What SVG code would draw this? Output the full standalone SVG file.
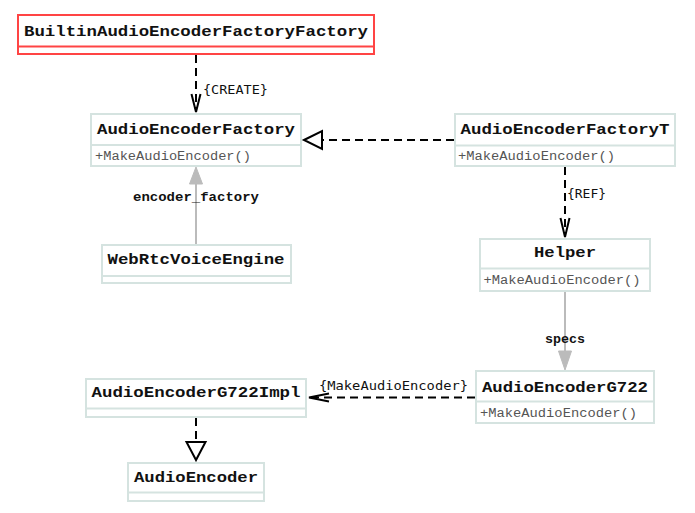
<svg xmlns="http://www.w3.org/2000/svg" width="695" height="513" viewBox="0 0 695 513">
<style>
.box{fill:#fff;stroke:#d5e3e0;stroke-width:2}
.red{fill:#fff;stroke:#ff4444;stroke-width:2}
.div{stroke:#d5e3e0;stroke-width:2}
.divr{stroke:#ff4444;stroke-width:2}
.title{font-family:"Liberation Mono",monospace;font-weight:bold;font-size:15.5px;fill:#111;text-anchor:middle}
.meth{font-family:"Liberation Mono",monospace;font-size:12px;fill:#555}
.dash{stroke:#000;stroke-width:2;stroke-dasharray:8,5;fill:none}
.solid{stroke:#bbb;stroke-width:2;fill:none}
.open{stroke:#000;stroke-width:2;fill:none}
.tri{stroke:#000;stroke-width:2;fill:#fff}
.gtri{fill:#bbb;stroke:#bbb;stroke-width:1}
.lbl{font-family:"DejaVu Sans Mono",monospace;font-size:13px;fill:#111}
.blbl{font-family:"Liberation Mono",monospace;font-weight:bold;font-size:13px;fill:#111;text-anchor:middle}
</style>
<rect width="695" height="513" fill="#fff"/>
<g id="connectors">
<line class="dash" x1="196" y1="55" x2="196" y2="111"/>
<polyline class="open" points="191.5,94 196,112 200.5,94"/>
<text class="lbl" x="203" y="94" textLength="65" lengthAdjust="spacingAndGlyphs">{CREATE}</text>
<line class="dash" x1="454" y1="140" x2="322" y2="140"/>
<polygon class="tri" points="304,140 322,131 322,149"/>
<line class="solid" x1="196" y1="245" x2="196" y2="183"/>
<polygon class="gtri" points="196,167 189.5,184 202.5,184"/>
<text class="blbl" x="196" y="201" textLength="126" lengthAdjust="spacingAndGlyphs">encoder_factory</text>
<line class="dash" x1="565" y1="167" x2="565" y2="236"/>
<polyline class="open" points="560.5,218 565,237 569.5,218"/>
<text class="lbl" x="567" y="198" textLength="39" lengthAdjust="spacingAndGlyphs">{REF}</text>
<line class="solid" x1="565" y1="292" x2="565" y2="352"/>
<polygon class="gtri" points="565,370 558.5,351 571.5,351"/>
<text class="blbl" x="565" y="343" textLength="40" lengthAdjust="spacingAndGlyphs">specs</text>
<line class="dash" x1="475" y1="397.5" x2="310" y2="397.5"/>
<polyline class="open" points="329,393.5 309,397.5 329,401.5"/>
<text class="lbl" x="319" y="390" textLength="149" lengthAdjust="spacingAndGlyphs">{MakeAudioEncoder}</text>
<line class="dash" x1="196" y1="418" x2="196" y2="442"/>
<polygon class="tri" points="196,460 186.5,442 205.5,442"/>
</g>
<g id="BuiltinAudioEncoderFactoryFactory">
<rect class="red" x="18" y="15" width="356" height="39"/>
<line class="divr" x1="18" y1="46.5" x2="374" y2="46.5"/>
<text class="title" x="196" y="36" textLength="344" lengthAdjust="spacingAndGlyphs">BuiltinAudioEncoderFactoryFactory</text>
</g>
<g id="AudioEncoderFactory">
<rect class="box" x="91" y="114" width="210" height="52"/>
<line class="div" x1="91" y1="145" x2="301" y2="145"/>
<text class="title" x="196" y="133.5" textLength="198" lengthAdjust="spacingAndGlyphs">AudioEncoderFactory</text>
<text class="meth" x="95" y="159.5" textLength="156" lengthAdjust="spacingAndGlyphs">+MakeAudioEncoder()</text>
</g>
<g id="AudioEncoderFactoryT">
<rect class="box" x="455" y="114" width="220" height="52"/>
<line class="div" x1="455" y1="145.5" x2="675" y2="145.5"/>
<text class="title" x="565" y="133.5" textLength="209" lengthAdjust="spacingAndGlyphs">AudioEncoderFactoryT</text>
<text class="meth" x="458" y="159.5" textLength="157" lengthAdjust="spacingAndGlyphs">+MakeAudioEncoder()</text>
</g>
<g id="WebRtcVoiceEngine">
<rect class="box" x="102" y="245" width="189" height="38"/>
<line class="div" x1="102" y1="276" x2="291" y2="276"/>
<text class="title" x="196" y="263.5" textLength="177" lengthAdjust="spacingAndGlyphs">WebRtcVoiceEngine</text>
</g>
<g id="Helper">
<rect class="box" x="480" y="239" width="170" height="52"/>
<line class="div" x1="480" y1="268.5" x2="650" y2="268.5"/>
<text class="title" x="565" y="257" textLength="62" lengthAdjust="spacingAndGlyphs">Helper</text>
<text class="meth" x="483.5" y="283.5" textLength="157" lengthAdjust="spacingAndGlyphs">+MakeAudioEncoder()</text>
</g>
<g id="AudioEncoderG722">
<rect class="box" x="476" y="371" width="178" height="52"/>
<line class="div" x1="476" y1="401.5" x2="654" y2="401.5"/>
<text class="title" x="565" y="392" textLength="166" lengthAdjust="spacingAndGlyphs">AudioEncoderG722</text>
<text class="meth" x="480" y="416.5" textLength="157" lengthAdjust="spacingAndGlyphs">+MakeAudioEncoder()</text>
</g>
<g id="AudioEncoderG722Impl">
<rect class="box" x="86" y="379" width="220" height="38"/>
<line class="div" x1="86" y1="408.5" x2="306" y2="408.5"/>
<text class="title" x="196" y="397" textLength="209" lengthAdjust="spacingAndGlyphs">AudioEncoderG722Impl</text>
</g>
<g id="AudioEncoder">
<rect class="box" x="128" y="463" width="136" height="38"/>
<line class="div" x1="128" y1="492.5" x2="264" y2="492.5"/>
<text class="title" x="196" y="482" textLength="124" lengthAdjust="spacingAndGlyphs">AudioEncoder</text>
</g>
</svg>
